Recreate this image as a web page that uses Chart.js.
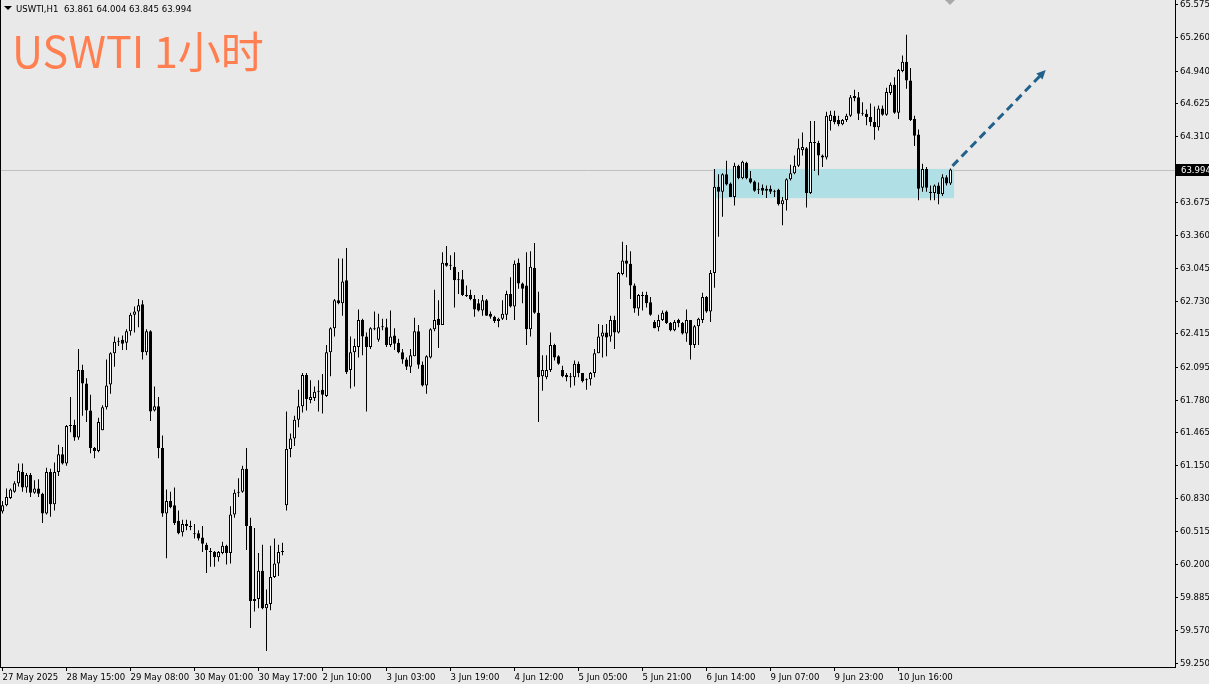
<!DOCTYPE html>
<html><head><meta charset="utf-8">
<script src="https://cdn.jsdelivr.net/npm/chart.js@4.4.1/dist/chart.umd.min.js"></script>
<style>
html,body{margin:0;padding:0;background:#e9e9e9;}
#wrap{position:relative;width:1209px;height:684px;overflow:hidden;background:#e9e9e9;}
#c{position:absolute;left:0;top:0;}
#tri{position:absolute;left:4px;top:6px;width:0;height:0;border-left:4px solid transparent;border-right:4px solid transparent;border-top:4px solid #000;}
#hdr{position:absolute;left:16px;top:3px;font-size:9.5px;line-height:11px;font-family:'DejaVu Sans Condensed','DejaVu Sans',sans-serif;color:#000;white-space:pre;}
#title{position:absolute;left:12px;top:28px;font-size:43px;line-height:43px;font-family:'Noto Sans CJK SC',sans-serif;color:#ff7f50;white-space:pre;}
</style></head>
<body>
<div id="wrap">
<canvas id="c" width="1209" height="684"></canvas>
<div id="tri"></div>
<div id="hdr">USWTI,H1  63.861 64.004 63.845 63.994</div>
<div id="title">USWTI 1小时</div>
</div>
<script>
const open = [
60.71,60.77,60.84,60.90,60.98,61.09,60.94,61.06,60.89,60.93,
60.88,60.69,61.09,60.78,61.09,61.26,61.17,61.53,61.54,61.42,
62.07,61.94,61.68,61.32,61.29,61.49,61.71,61.93,62.23,62.34,
62.36,62.33,62.44,62.60,62.63,62.70,62.24,62.44,61.68,61.72,
61.32,60.69,60.81,60.77,60.62,60.51,60.57,60.57,60.50,60.50,
60.46,60.39,60.33,60.32,60.27,60.31,60.38,60.31,60.68,60.89,
60.90,61.12,60.57,59.85,59.87,60.14,59.78,59.82,60.08,60.21,
60.32,60.77,61.31,61.41,61.59,61.72,62.02,61.78,61.80,61.86,
61.88,61.82,62.24,62.47,62.74,62.71,62.93,62.07,62.24,62.29,
62.55,62.39,62.29,62.46,62.36,62.49,62.48,62.31,62.40,62.33,
62.24,62.17,62.10,62.20,62.44,62.12,61.92,62.19,62.46,62.56,
62.50,63.10,63.08,63.06,62.94,62.94,62.79,62.79,62.75,62.71,
62.64,62.74,62.61,62.58,62.54,62.56,62.60,62.80,62.68,63.10,
62.90,62.88,62.46,63.05,62.62,62.01,62.00,62.07,62.31,62.20,
62.07,62.02,62.01,62.00,62.13,62.04,61.97,61.98,62.04,62.23,
62.39,62.43,62.39,62.55,62.43,62.99,63.12,63.09,62.88,62.66,
62.79,62.79,62.72,62.53,62.48,62.55,62.63,62.52,62.45,62.55,
62.52,62.42,62.55,62.31,62.49,62.55,62.77,62.63,63.00,63.83,
63.78,63.95,63.86,63.73,64.03,63.91,64.06,63.91,63.88,63.80,
63.82,63.79,63.81,63.79,63.80,63.66,63.70,63.90,63.96,64.03,
64.18,64.20,63.77,64.26,64.25,64.13,64.11,64.46,64.51,64.47,
64.43,64.47,64.51,64.70,64.69,64.54,64.53,64.50,64.45,64.40,
64.58,64.52,64.73,64.81,64.54,64.94,65.03,64.85,64.48,64.33,
63.82,64.00,63.78,63.77,63.84,63.76,63.92,63.861
];
const high = [
60.81,60.93,60.93,61.00,61.17,61.17,61.08,61.08,61.01,61.02,
60.89,61.13,61.12,61.18,61.35,61.33,61.54,61.81,61.59,62.27,
62.12,61.99,61.83,61.33,61.61,61.73,62.17,62.24,62.39,62.38,
62.40,62.46,62.62,62.68,62.75,62.74,62.46,62.45,61.91,61.81,
61.44,60.92,60.90,60.94,60.72,60.63,60.63,60.62,60.59,60.53,
60.57,60.41,60.36,60.33,60.33,60.42,60.39,60.76,60.92,61.03,
61.15,61.32,60.65,60.55,60.31,60.39,59.96,60.38,60.45,60.39,
60.41,61.67,61.46,61.63,61.88,62.04,62.04,61.97,61.91,61.97,
62.03,62.31,62.48,62.75,63.14,63.14,63.24,62.39,62.37,62.65,
62.56,62.43,62.48,62.63,62.61,62.56,62.56,62.64,62.47,62.37,
62.27,62.19,62.27,62.57,62.50,62.15,62.21,62.47,62.84,62.74,
63.20,63.26,63.17,63.20,63.01,63.03,62.88,62.84,62.79,62.75,
62.79,62.75,62.63,62.59,62.57,62.74,62.83,62.96,63.12,63.14,
62.91,63.20,63.21,63.29,62.82,62.21,62.21,62.43,62.32,62.21,
62.11,62.04,62.04,62.16,62.15,62.04,61.99,62.05,62.27,62.51,
62.50,62.51,62.59,62.59,63.01,63.30,63.27,63.21,62.90,62.80,
62.82,62.82,62.77,62.55,62.60,62.64,62.64,62.53,62.55,62.56,
62.53,62.65,62.55,62.50,62.57,62.81,62.78,63.03,64.00,63.95,
63.96,64.08,63.87,64.06,64.04,64.08,64.07,63.98,63.89,63.87,
63.85,63.84,63.84,63.80,63.81,63.73,63.91,64.04,64.13,64.29,
64.35,64.21,64.46,64.46,64.27,64.14,64.55,64.56,64.56,64.51,
64.48,64.53,64.71,64.76,64.74,64.64,64.57,64.63,64.60,64.61,
64.61,64.78,64.83,64.88,64.96,65.09,65.29,64.97,64.51,64.38,
64.05,64.02,63.84,63.85,63.87,63.95,63.94,64.004
];
const low = [
60.69,60.76,60.83,60.89,60.95,60.90,60.89,60.85,60.88,60.85,
60.60,60.68,60.66,60.72,61.05,61.16,61.15,61.47,61.39,61.40,
61.63,61.57,61.27,61.22,61.28,61.49,61.69,61.84,62.10,62.30,
62.26,62.26,62.40,62.43,62.48,62.17,62.21,61.58,61.67,61.22,
60.66,60.26,60.74,60.58,60.49,60.47,60.53,60.53,60.45,60.43,
60.32,60.12,60.18,60.18,60.23,60.30,60.20,60.21,60.65,60.85,
60.89,60.34,59.59,59.75,59.78,59.77,59.37,59.76,60.07,60.09,
60.29,60.72,61.23,61.34,61.52,61.66,61.68,61.75,61.77,61.67,
61.65,61.81,62.01,62.39,62.70,62.59,62.03,61.89,61.91,62.19,
62.21,61.67,62.27,62.45,62.34,62.45,62.29,62.29,62.26,62.23,
62.13,62.07,62.04,62.20,62.08,61.91,61.84,62.18,62.44,62.28,
62.50,63.06,63.03,62.67,62.80,62.78,62.77,62.74,62.58,62.63,
62.59,62.59,62.56,62.52,62.48,62.55,62.55,62.67,62.55,62.85,
62.71,62.31,62.39,62.61,61.57,61.87,61.98,62.05,62.16,62.12,
62.00,61.96,61.90,61.92,62.00,61.95,61.88,61.92,62.00,62.23,
62.19,62.20,62.34,62.27,62.42,62.98,62.96,62.75,62.62,62.59,
62.64,62.67,62.59,62.47,62.44,62.54,62.51,62.44,62.44,62.48,
62.41,62.34,62.17,62.28,62.31,62.52,62.62,62.53,62.86,63.35,
63.54,63.84,63.73,63.65,63.90,63.90,63.90,63.86,63.78,63.76,
63.75,63.72,63.76,63.73,63.65,63.46,63.60,63.89,63.95,64.02,
64.13,63.63,63.76,63.98,63.94,64.02,64.09,64.37,64.43,64.41,
64.42,64.45,64.50,64.65,64.47,64.51,64.42,64.41,64.28,64.37,
64.51,64.51,64.71,64.53,64.48,64.93,64.77,64.46,64.22,63.70,
63.78,63.78,63.70,63.70,63.66,63.74,63.84,63.845
];
const close = [
60.77,60.85,60.92,60.98,61.10,60.94,61.06,60.89,60.93,60.88,
60.69,61.09,60.78,61.09,61.26,61.17,61.53,61.54,61.42,62.07,
61.94,61.68,61.32,61.29,61.57,61.71,61.92,62.23,62.34,62.35,
62.32,62.44,62.60,62.63,62.69,62.24,62.44,61.67,61.72,61.32,
60.69,60.81,60.75,60.60,60.50,60.59,60.59,60.56,60.49,60.45,
60.40,60.34,60.32,60.27,60.32,60.38,60.31,60.68,60.89,60.90,
61.12,60.57,59.85,59.87,60.14,59.78,59.82,60.08,60.21,60.32,
60.33,61.31,61.41,61.59,61.72,62.02,61.79,61.81,61.86,61.87,
61.83,62.24,62.47,62.74,62.71,62.92,62.05,62.24,62.30,62.55,
62.39,62.29,62.47,62.47,62.48,62.48,62.31,62.39,62.32,62.24,
62.17,62.10,62.21,62.44,62.12,61.92,62.20,62.46,62.55,62.50,
63.10,63.07,63.07,62.93,62.93,62.79,62.78,62.75,62.65,62.64,
62.74,62.59,62.58,62.54,62.56,62.61,62.80,62.68,63.09,62.90,
62.85,62.46,63.06,62.62,62.00,62.07,62.07,62.31,62.19,62.13,
62.01,62.00,62.00,62.13,62.04,61.96,61.98,62.04,62.23,62.39,
62.43,62.38,62.55,62.43,63.00,63.12,63.09,62.88,62.66,62.79,
62.78,62.71,62.60,62.47,62.55,62.62,62.52,62.45,62.53,62.52,
62.42,62.55,62.31,62.49,62.56,62.77,62.63,63.00,63.83,63.78,
63.95,63.85,63.73,64.03,63.91,64.07,63.91,63.87,63.79,63.81,
63.79,63.81,63.78,63.78,63.66,63.70,63.90,63.96,64.03,64.20,
64.21,63.77,64.26,64.25,64.13,64.11,64.51,64.52,64.45,64.43,
64.47,64.51,64.69,64.68,64.53,64.53,64.50,64.45,64.40,64.58,
64.52,64.74,64.81,64.54,64.95,65.03,64.85,64.47,64.32,63.81,
64.00,63.82,63.77,63.84,63.76,63.92,63.86,63.994
];

// x tick labels (bar index -> label)
const xTickIndex = [0,16,32,48,64,80,96,112,128,144,160,176,192,208,224];
const xTickLabels = ['27 May 2025','28 May 15:00','29 May 08:00','30 May 01:00','30 May 17:00','2 Jun 10:00','3 Jun 03:00','3 Jun 19:00','4 Jun 12:00','5 Jun 05:00','5 Jun 21:00','6 Jun 14:00','9 Jun 07:00','9 Jun 23:00','10 Jun 16:00'];
// y tick labels
const yTicks = [65.575,65.260,64.940,64.625,64.310,63.675,63.360,63.045,62.730,62.415,62.095,61.780,61.465,61.150,60.830,60.515,60.200,59.885,59.570,59.250];
// annotation values
const lastPrice = 63.994;
const zone = {from: 177.6, to: 237.9, top: 64.00, bottom: 63.72};
const arrow = {fromIdx: 237.5, fromPrice: 64.03, toIdx: 260.8, toPrice: 64.95};

const idx = open.map((_, i) => i);
const FONT = "'DejaVu Sans Condensed','DejaVu Sans',sans-serif";

const deco = {
  id: 'deco',
  beforeDatasetsDraw(chart) {
    const {ctx, chartArea: a, scales: {x, y}} = chart;
    ctx.save();
    const by = Math.round(y.getPixelForValue(lastPrice)) + 0.5;
    ctx.strokeStyle = '#c0c0c0'; ctx.lineWidth = 1;
    ctx.beginPath(); ctx.moveTo(a.left, by); ctx.lineTo(a.right, by); ctx.stroke();
    const x0 = x.getPixelForValue(zone.from), x1 = x.getPixelForValue(zone.to);
    const y0 = y.getPixelForValue(zone.top), y1 = y.getPixelForValue(zone.bottom);
    ctx.fillStyle = '#b0e0e6';
    ctx.fillRect(x0, y0, x1 - x0, y1 - y0);
    ctx.restore();
  },
  afterDraw(chart) {
    const {ctx, chartArea: a, scales: {x, y}} = chart;
    ctx.save();
    ctx.fillStyle = '#000';
    ctx.fillRect(0, 0, 1, a.bottom);
    ctx.fillStyle = '#a9a9a9';
    ctx.beginPath(); ctx.moveTo(945, 0); ctx.lineTo(955, 0); ctx.lineTo(950, 5); ctx.closePath(); ctx.fill();
    const ax0 = x.getPixelForValue(arrow.fromIdx), ay0 = y.getPixelForValue(arrow.fromPrice);
    const ax1 = x.getPixelForValue(arrow.toIdx), ay1 = y.getPixelForValue(arrow.toPrice);
    const ang = Math.atan2(ay1 - ay0, ax1 - ax0);
    const headLen = 10;
    const lx = ax1 - Math.cos(ang) * headLen * 0.8, ly = ay1 - Math.sin(ang) * headLen * 0.8;
    ctx.strokeStyle = '#22618c'; ctx.lineWidth = 3; ctx.setLineDash([8, 5]);
    ctx.beginPath(); ctx.moveTo(ax0, ay0); ctx.lineTo(lx, ly); ctx.stroke();
    ctx.setLineDash([]);
    ctx.fillStyle = '#22618c';
    ctx.beginPath();
    ctx.moveTo(ax1, ay1);
    ctx.lineTo(ax1 - Math.cos(ang - 0.45) * headLen, ay1 - Math.sin(ang - 0.45) * headLen);
    ctx.lineTo(ax1 - Math.cos(ang + 0.45) * headLen, ay1 - Math.sin(ang + 0.45) * headLen);
    ctx.closePath(); ctx.fill();
    const by = Math.round(y.getPixelForValue(lastPrice));
    ctx.fillStyle = '#000';
    ctx.fillRect(a.right + 1, by - 6, 40, 12);
    ctx.fillStyle = '#fff';
    ctx.font = '9.5px ' + FONT;
    ctx.textBaseline = 'middle';
    ctx.fillText(lastPrice.toFixed(3), a.right + 6, by + 0.5);
    ctx.restore();
  }
};

new Chart(document.getElementById('c'), {
  type: 'bar',
  data: {
    datasets: [
      {
        label: 'wick',
        data: idx.map(i => ({x: i, y: [low[i], high[i]]})),
        backgroundColor: '#000',
        borderWidth: 0,
        barThickness: 1,
        grouped: false,
        inflateAmount: 0,
        order: 2
      },
      {
        label: 'body',
        data: idx.map(i => ({x: i, y: [Math.min(open[i], close[i]), Math.max(open[i], close[i])]})),
        backgroundColor: idx.map(i => close[i] >= open[i] ? '#ffffff' : '#000000'),
        borderColor: '#000',
        borderWidth: 1,
        borderSkipped: false,
        barThickness: 3,
        minBarLength: 1,
        grouped: false,
        inflateAmount: 0,
        order: 1
      }
    ]
  },
  plugins: [deco],
  options: {
    responsive: false,
    animation: false,
    devicePixelRatio: 1,
    layout: {padding: 0},
    plugins: {legend: {display: false}, tooltip: {enabled: false}},
    scales: {
      x: {
        type: 'linear',
        min: -0.625,
        max: 293.125,
        offset: false,
        grid: {offset: false, drawOnChartArea: false, drawTicks: true, tickLength: 4, color: '#000'},
        border: {display: true, color: '#000', width: 1},
        afterBuildTicks: s => { s.ticks = xTickIndex.map(v => ({value: v})); },
        afterFit: s => { s.height = 17; s.paddingLeft = 0; s.paddingRight = 0; },
        ticks: {
          autoSkip: false, maxRotation: 0, minRotation: 0, align: 'start', padding: 1,
          color: '#000', font: {family: FONT, size: 9.5},
          callback: v => { const k = xTickIndex.indexOf(v); return k >= 0 ? xTickLabels[k] : ''; }
        }
      },
      y: {
        type: 'linear',
        position: 'right',
        min: 59.216,
        max: 65.623,
        beginAtZero: false,
        grid: {drawOnChartArea: false, drawTicks: true, tickLength: 3, color: '#000'},
        border: {display: true, color: '#000', width: 1},
        afterBuildTicks: s => { s.ticks = yTicks.map(v => ({value: v})); },
        afterFit: s => { s.width = 34; s.paddingTop = 0; s.paddingBottom = 0; },
        ticks: {
          padding: 2, color: '#000', font: {family: FONT, size: 9.5},
          callback: v => Number(v).toFixed(3)
        }
      }
    }
  }
});
</script>
</body></html>
